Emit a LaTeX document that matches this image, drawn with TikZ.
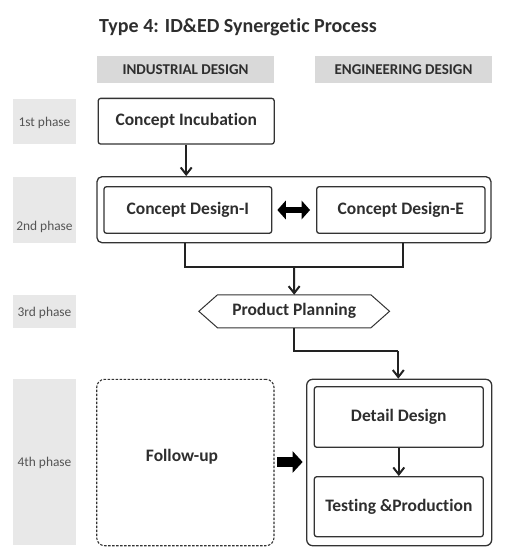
\documentclass[tikz,border=0pt]{standalone}
\usepackage{fontspec}
\setmainfont{Carlito}[Ligatures=NoCommon]
\usetikzlibrary{arrows.meta}
\definecolor{txt}{HTML}{2E2E2E}
\definecolor{linec}{HTML}{333333}
\definecolor{conn}{HTML}{222222}
\definecolor{hdr}{HTML}{D9D9D9}
\definecolor{phs}{HTML}{E8E8E8}
\definecolor{phtxt}{HTML}{555555}
\begin{document}
\begin{tikzpicture}[x=1pt,y=-1pt,
  box/.style={draw=linec, line width=1.3pt, rounded corners=2.5pt, text=txt, inner sep=0pt,
    font=\bfseries\fontsize{17.5}{20}\selectfont},
  outerbox/.style={draw=linec, line width=1.3pt, rounded corners=6pt, inner sep=0pt},
  hdrbox/.style={fill=hdr, inner sep=0pt, minimum width=177pt, minimum height=27pt, text=txt,
    font=\bfseries\fontsize{15}{18}\selectfont},
  phbox/.style={fill=phs, inner sep=0pt, minimum width=63pt},
  phlabel/.style={text=phtxt, inner sep=0pt, font=\fontsize{13.4}{16}\selectfont},
  connline/.style={draw=conn, line width=2pt},
  arr/.style={connline, -{Straight Barb[length=7pt,width=11pt,line width=2pt]}},
]
\useasboundingbox (0,0) rectangle (507,552);
% title
\node[text=txt, inner sep=0pt, font=\bfseries\fontsize{20}{24}\selectfont] (title) at (238,27) {Type 4: ID\&ED Synergetic Process};
% headers
\node[hdrbox] (hid) at (185.5,69.5) {INDUSTRIAL DESIGN};
\node[hdrbox] (hed) at (403.5,69.5) {ENGINEERING DESIGN};
% phase boxes
\node[phbox, minimum height=45pt] (p1) at (44.5,121.5) {};
\node[phbox, minimum height=66pt] (p2) at (44.5,210) {};
\node[phbox, minimum height=32.7pt] (p3) at (44.5,311.3) {};
\node[phbox, minimum height=166pt] (p4) at (44.5,462) {};
\node[phlabel] (p1t) at (44.5,122.5) {1st phase};
\node[phlabel] (p2t) at (44.5,226.5) {2nd phase};
\node[phlabel] (p3t) at (44.5,313) {3rd phase};
\node[phlabel] (p4t) at (44.5,463) {4th phase};
% phase 1
\node[box, minimum width=176pt, minimum height=45.7pt] (ci) at (186.2,121.2) {Concept Incubation};
% phase 2
\node[outerbox, rounded corners=5pt, minimum width=394pt, minimum height=66pt] (o2) at (294,209.7) {};
\node[box, minimum width=167.7pt, minimum height=46.6pt] (cdi) at (187.85,210) {Concept Design-I};
\node[box, minimum width=168.3pt, minimum height=46.6pt] (cde) at (400.85,210) {Concept Design-E};
% phase 3
\node[text=txt, inner sep=0pt, minimum width=190.3pt, minimum height=32.7pt,
  font=\bfseries\fontsize{17.5}{20}\selectfont] (pp) at (294.2,311.3) {Product Planning};
\draw[draw=linec, line width=1pt] (pp.west) -- ([xshift=18.7pt]pp.north west) -- ([xshift=-18.7pt]pp.north east)
  -- (pp.east) -- ([xshift=-18.7pt]pp.south east) -- ([xshift=18.7pt]pp.south west) -- cycle;
% phase 4
\node[draw=linec, line width=1.1pt, dash pattern=on 2.5pt off 1.5pt, rounded corners=8pt, inner sep=0pt,
  minimum width=177.3pt, minimum height=166.4pt] (fu) at (185.35,462.5) {};
\node[text=txt, inner sep=0pt, font=\bfseries\fontsize{17.5}{20}\selectfont] (fut) at (182,457) {Follow-up};
\node[outerbox, minimum width=185pt, minimum height=166.4pt] (o4) at (399.2,462.5) {};
\node[box, minimum width=169pt, minimum height=60.6pt] (dd) at (398.8,417) {Detail Design};
\node[box, minimum width=169pt, minimum height=60pt] (tp) at (398.8,506.7) {Testing \&Production};
% connectors
\draw[arr] (ci.south) -- (ci.south |- o2.north);
\coordinate (j) at (294,266.7);
\draw[connline] ([xshift=-2.8pt]cdi.south |- o2.south) |- (j) -| ([xshift=2.5pt]cde.south |- o2.south);
\draw[arr] (j) -- (pp.north);
\coordinate (k) at (398.3,351);
\draw[connline] (pp.south) |- (k);
\draw[arr] (k) -- (k |- o4.north);
\draw[arr] (dd.south) -- (tp.north);
% block arrows
\draw[draw=black, line width=6pt, shorten <=5pt, shorten >=6pt,
  {Triangle[length=8.5pt,width=18.5pt]}-{Triangle[length=8.5pt,width=18.5pt]}] (cdi.east) -- (cde.west);
\draw[draw=black, line width=9.5pt, shorten <=2.7pt, shorten >=3.4pt,
  -{Triangle[length=10pt,width=21pt]}] (fu.east |- 0,462) -- (o4.west |- 0,462);
\end{tikzpicture}
\end{document}
